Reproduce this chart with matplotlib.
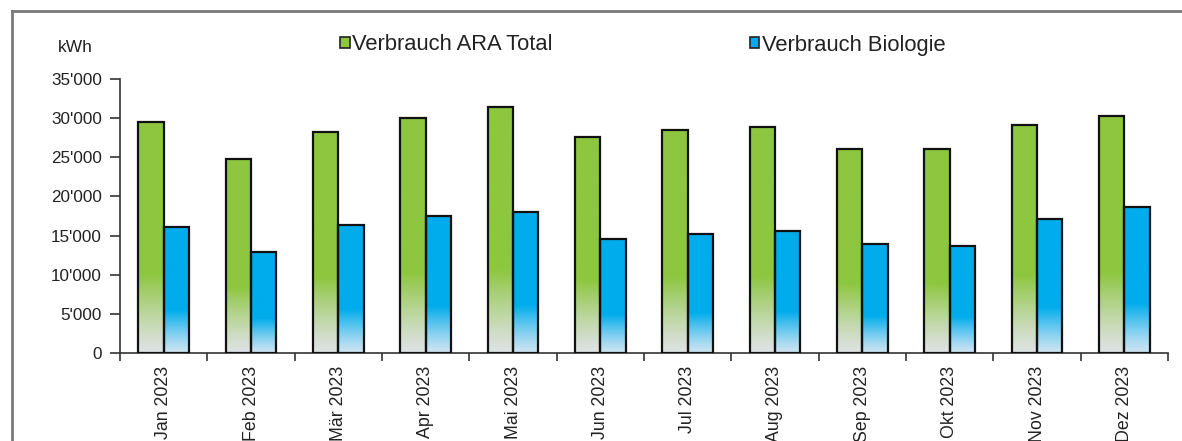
import numpy as np
import matplotlib
matplotlib.use("Agg")
import matplotlib.pyplot as plt
from matplotlib.patches import Patch
from matplotlib.lines import Line2D
from matplotlib.ticker import FuncFormatter, FixedLocator

plt.rcParams['font.family'] = ['Liberation Sans', 'DejaVu Sans']

months = ["Jan 2023", "Feb 2023", "Mär 2023", "Apr 2023", "Mai 2023", "Jun 2023",
          "Jul 2023", "Aug 2023", "Sep 2023", "Okt 2023", "Nov 2023", "Dez 2023"]
ara_total = [29550, 24810, 28240, 29990, 31390, 27570,
             28460, 28880, 26120, 26120, 29130, 30280]
biologie = [16070, 12940, 16290, 17560, 17980, 14500,
            15140, 15560, 13870, 13610, 17140, 18610]
series_names = ["Verbrauch ARA Total", "Verbrauch Biologie"]

green = np.array([141, 198, 63]) / 255
blue = np.array([0, 172, 236]) / 255
green_base = np.array([222, 226, 228]) / 255
blue_base = np.array([205, 228, 242]) / 255

fig = plt.figure(figsize=(11.82, 4.41), dpi=100)
ax = fig.add_axes([120 / 1182, 1 - 353 / 441, 1048 / 1182, 274 / 441])

x = np.arange(len(months))
w = 0.29


def gradient_bars(xpos, values, top, base):
    bars = ax.bar(xpos, values, width=w, facecolor='none', edgecolor='#111111',
                  linewidth=1.6, zorder=3)
    n = 200
    f = np.linspace(0, 1, n)  # 0 = bottom, 1 = top
    t = np.clip(f / 0.34, 0, 1) ** 1.2
    cols = base[None, :] * (1 - t[:, None]) + top[None, :] * t[:, None]
    img = cols[::-1][:, None, :]
    for b in bars:
        x0 = b.get_x()
        h = b.get_height()
        im = ax.imshow(img, extent=(x0, x0 + b.get_width(), 0, h),
                       aspect='auto', interpolation='bilinear', zorder=2)
        im.set_clip_path(b)
    return bars


gradient_bars(x - w / 2, ara_total, green, green_base)
gradient_bars(x + w / 2, biologie, blue, blue_base)

ax.set_xlim(-0.5, len(months) - 0.5)
ax.set_ylim(0, 35000)
ax.set_yticks(np.arange(0, 35001, 5000))
ax.yaxis.set_major_formatter(FuncFormatter(
    lambda v, p: f"{int(v):,}".replace(",", "'")))

ax.xaxis.set_major_locator(FixedLocator(np.arange(-0.5, len(months), 1.0)))
ax.xaxis.set_major_formatter(FuncFormatter(lambda v, p: ""))
ax.xaxis.set_minor_locator(FixedLocator(x))
ax.set_xticklabels(months, minor=True, rotation=90, fontsize=12.8, color='#222222')
ax.tick_params(axis='x', which='minor', length=0, pad=9)
ax.tick_params(axis='x', which='major', length=6, width=1.2, color='#333333')
ax.tick_params(axis='y', length=7, width=1.2, color='#333333', labelsize=12.3,
               labelcolor='#222222', pad=6)

for s in ['top', 'right']:
    ax.spines[s].set_visible(False)
for s in ['left', 'bottom']:
    ax.spines[s].set_color('#333333')
    ax.spines[s].set_linewidth(1.2)

handles = [Patch(facecolor=green, edgecolor='#222222', linewidth=1.2),
           Patch(facecolor=blue, edgecolor='#222222', linewidth=1.2)]
fig.legend(handles, series_names, loc='center', ncol=2,
           bbox_to_anchor=(643 / 1182, 1 - 45 / 441), frameon=False,
           fontsize=15.8, handlelength=0.42, handleheight=0.42,
           handletextpad=0.12, columnspacing=9.0, labelcolor='#222222')

fig.text(75 / 1182, 1 - 47 / 441, "kWh", ha='center', va='center',
         fontsize=12.5, color='#222222')

# outer chart frame
fig.add_artist(Line2D([12 / 1182, 1.0], [1 - 11 / 441, 1 - 11 / 441],
                      transform=fig.transFigure, color='#7a7a7a', linewidth=2))
fig.add_artist(Line2D([12 / 1182, 12 / 1182], [1 - 11 / 441, 0.0],
                      transform=fig.transFigure, color='#7a7a7a', linewidth=2))

fig.savefig("out.png", dpi=100)
